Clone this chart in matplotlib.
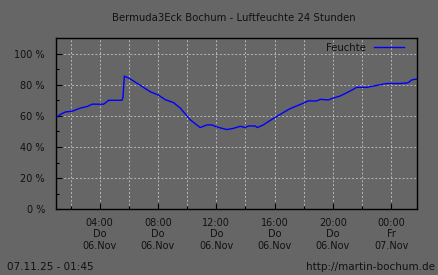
import matplotlib
matplotlib.use("Agg")
import matplotlib.pyplot as plt

# hours since 06.Nov 00:00
hours = [1.03, 1.31, 1.65, 2.11, 2.68, 3.14, 3.48, 4.27, 4.62, 5.53, 5.60, 5.69,
         5.99, 6.67, 7.47, 8.04, 8.50, 9.07, 9.53, 9.87, 10.21, 10.55, 10.90,
         11.36, 11.70, 11.92, 12.27, 12.73, 13.18, 13.64, 13.98, 14.21, 14.67,
         14.82, 15.23, 15.69, 16.15, 16.60, 17.06, 17.63, 17.97, 18.32, 18.89,
         19.16, 19.68, 20.03, 20.49, 20.95, 21.40, 21.63, 22.32, 22.99, 23.68,
         24.60, 25.16, 25.40, 25.62, 25.76]
feuchte = [59.0, 61.0, 62.5, 63.0, 65.0, 66.0, 67.5, 67.5, 70.0, 70.0, 72.0, 85.5,
           84.3, 80.3, 75.5, 73.3, 70.4, 68.5, 65.0, 61.3, 57.5, 55.0, 52.5,
           54.2, 54.2, 53.3, 52.3, 51.2, 52.0, 53.3, 52.5, 53.5, 53.5,
           52.5, 54.2, 57.0, 59.6, 62.1, 64.6, 66.8, 68.1, 69.6, 69.6,
           70.6, 70.2, 71.4, 72.7, 74.8, 77.0, 78.3, 78.3, 79.5, 80.8,
           80.8, 81.2, 83.0, 83.5, 83.5]

tick_hours = [4, 8, 12, 16, 20, 24]
tick_labels = ["04:00\nDo\n06.Nov", "08:00\nDo\n06.Nov", "12:00\nDo\n06.Nov",
               "16:00\nDo\n06.Nov", "20:00\nDo\n06.Nov", "00:00\nFr\n07.Nov"]

bg = "#666666"
txt = "#111111"

fig = plt.figure(figsize=(4.38, 2.75), dpi=100, facecolor=bg)
ax = fig.add_axes([56 / 438, 1 - 209.3 / 275, (417 - 56) / 438, (209.3 - 38) / 275])
ax.set_facecolor(bg)

ax.plot(hours, feuchte, color="#0000ff", lw=1.0, label="Feuchte")

ax.set_xlim(1.0, 25.78)
ax.set_ylim(0, 110)

ax.set_xticks(tick_hours)
ax.set_xticklabels(tick_labels)
ax.set_xticks(range(2, 26, 2), minor=True)
ax.set_yticks([0, 20, 40, 60, 80, 100])
ax.set_yticklabels(["0 %", "20 %", "40 %", "60 %", "80 %", "100 %"])
ax.set_yticks([10, 30, 50, 70, 90], minor=True)

ax.grid(True, which="both", axis="x", color="#b8b8b8", ls=(0, (2, 2)), lw=0.7)
ax.grid(True, which="major", axis="y", color="#b8b8b8", ls=(0, (2, 2)), lw=0.7)
ax.set_axisbelow(True)

ax.tick_params(which="both", direction="in", color="black", labelcolor=txt,
               labelsize=7)
ax.tick_params(which="major", length=4, width=0.8)
ax.tick_params(which="minor", length=2, width=0.8)
ax.tick_params(axis="x", pad=6)
ax.tick_params(axis="y", pad=8)
for s in ax.spines.values():
    s.set_color("black")
    s.set_linewidth(1.0)

leg = ax.legend(loc="upper right", bbox_to_anchor=(0.99, 1.025), frameon=False,
                markerfirst=False, handlelength=3, fontsize=7.3,
                labelcolor=txt)

fig.text(234 / 438, 1 - 18 / 275, "Bermuda3Eck Bochum - Luftfeuchte 24 Stunden",
         ha="center", va="center", fontsize=7.3, color=txt)
fig.text(7 / 438, 1 - 267 / 275, "07.11.25 - 01:45", ha="left", va="center",
         fontsize=7.5, color=txt)
fig.text(435 / 438, 1 - 267 / 275, "http://martin-bochum.de", ha="right",
         va="center", fontsize=7.5, color=txt)

fig.savefig("out.png", dpi=100, facecolor=bg)
